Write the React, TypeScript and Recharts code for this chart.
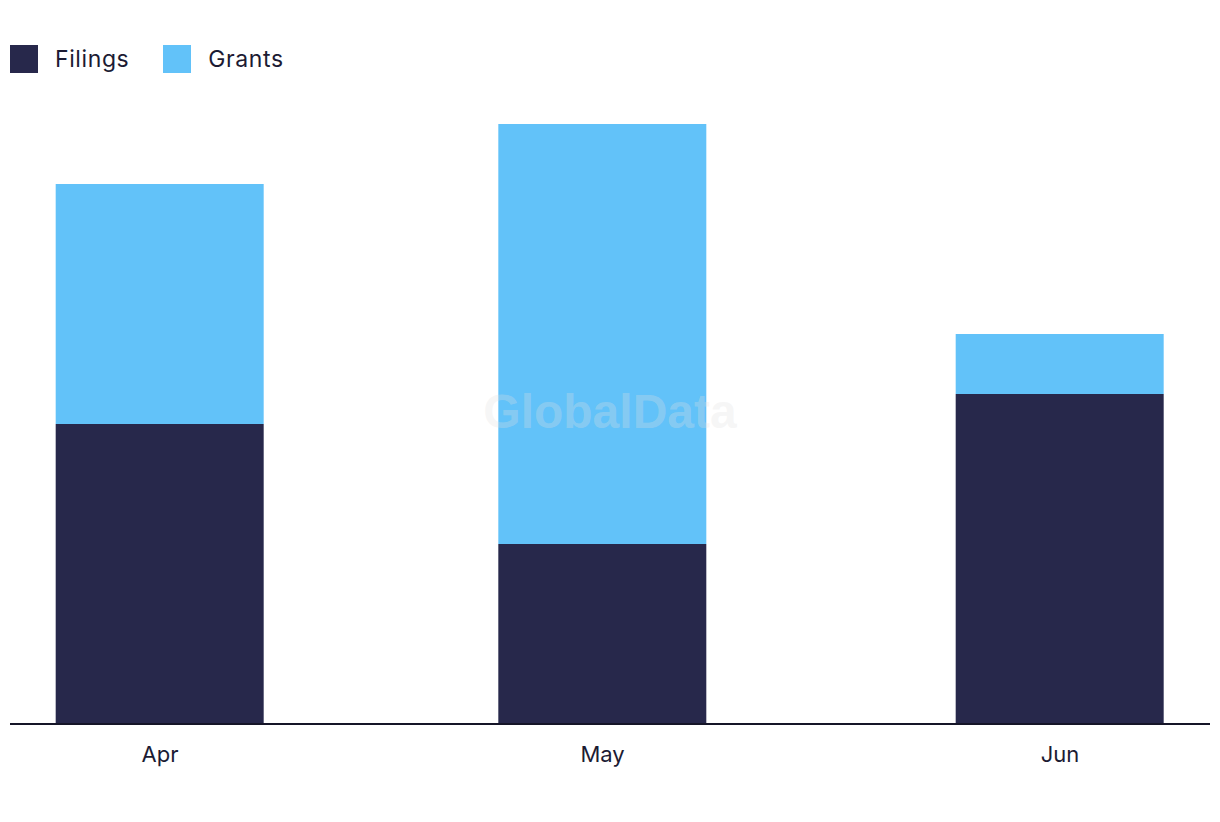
import React from 'react';
import { BarChart, Bar, XAxis, YAxis, Legend } from 'recharts';

// --- Data ---
const months = ['Apr', 'May', 'Jun'];
const monthStarts = [Date.UTC(2023, 3, 1), Date.UTC(2023, 4, 1), Date.UTC(2023, 5, 1)];
const filings = [10, 6, 11];
const grants = [8, 14, 2];

const DARK = '#27284b';
const LIGHT = '#62c2f9';
const TEXT = '#1c1b33';
const FONT = '"Inter", "Open Sans", sans-serif';

const chartData = months.map((m, i) => ({
  month: m,
  date: monthStarts[i],
  filings: filings[i],
  grants: grants[i],
}));

const legendItems = [
  { label: 'Filings', color: DARK },
  { label: 'Grants', color: LIGHT },
];

const ChartLegend = () => (
  <div style={{ display: 'flex', alignItems: 'center', fontFamily: FONT, height: 28 }}>
    {legendItems.map((item) => (
      <div key={item.label} style={{ display: 'flex', alignItems: 'center', marginRight: 34 }}>
        <span style={{ width: 28, height: 28, background: item.color, display: 'inline-block', marginRight: 17 }} />
        <span style={{ fontSize: 23, color: TEXT, letterSpacing: 0.6 }}>{item.label}</span>
      </div>
    ))}
  </div>
);

const App = () => {
  const tickLabel = (v: number) => {
    const idx = monthStarts.indexOf(v);
    return idx >= 0 ? months[idx] : '';
  };

  return (
    <div style={{ position: 'relative', width: 1204, height: 814 }}>
      <BarChart
        width={1204}
        height={814}
        data={chartData}
        margin={{ top: 88, right: 2, bottom: 38, left: 2 }}
        barCategoryGap={0}
      >
        <XAxis
          dataKey="date"
          type="number"
          scale="linear"
          domain={['dataMin', 'dataMax']}
          padding={{ left: 150, right: 150 }}
          ticks={monthStarts}
          tickFormatter={tickLabel}
          height={60}
          tickLine={false}
          tickSize={0}
          tickMargin={22}
          axisLine={{ stroke: '#151528', strokeWidth: 2 }}
          tick={{ fill: TEXT, fontSize: 22, fontFamily: FONT }}
        />
        <YAxis hide domain={[0, 20]} />
        <Legend
          verticalAlign="top"
          align="left"
          content={<ChartLegend />}
          wrapperStyle={{ top: 37, left: 2 }}
        />
        <Bar dataKey="filings" stackId="a" fill={DARK} barSize={208} isAnimationActive={false} />
        <Bar dataKey="grants" stackId="a" fill={LIGHT} barSize={208} isAnimationActive={false} />
      </BarChart>
      <div
        style={{
          position: 'absolute',
          left: 0,
          width: 1204,
          top: 376,
          textAlign: 'center',
          fontFamily: '"Liberation Sans", Arial, sans-serif',
          fontWeight: 'bold',
          fontSize: 48,
          color: 'rgba(225, 225, 225, 0.3)',
          pointerEvents: 'none',
        }}
      >
        GlobalData
      </div>
    </div>
  );
};

export default App;
